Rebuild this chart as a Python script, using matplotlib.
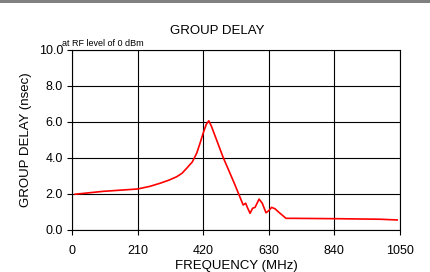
import matplotlib.pyplot as plt
from matplotlib.patches import Rectangle

plt.rcParams['font.family'] = ['Liberation Sans', 'DejaVu Sans']

# Frequency (MHz) and group delay (nsec)
freq = [10, 100, 210, 250, 282, 310, 335, 352, 367, 385, 399, 410, 420, 430, 438, 446,
        484, 520, 548, 556, 562, 570, 578, 586, 599, 609, 621, 630,
        639, 650, 660, 685, 708, 850, 986, 1041]
delay = [1.96, 2.12, 2.25, 2.4, 2.57, 2.74, 2.93, 3.12, 3.4, 3.75, 4.23, 4.8, 5.36, 5.85, 6.04, 5.75,
         4.0, 2.55, 1.36, 1.46, 1.2, 0.9, 1.18, 1.23, 1.69, 1.46, 0.93, 1.05,
         1.23, 1.15, 0.99, 0.62, 0.62, 0.6, 0.57, 0.53]

xticks = [0, 210, 420, 630, 840, 1050]
yticks = [0, 2, 4, 6, 8, 10]

fig = plt.figure(figsize=(4.3, 2.72), dpi=100)
fig.patch.set_facecolor('white')
ax = fig.add_axes([72/430, 1 - 229.5/272, 328/430, 180/272])

ax.plot(freq, delay, color='#ff0000', linewidth=1.2, zorder=3)

ax.set_xlim(0, 1050)
ax.set_ylim(0, 10)
ax.set_xticks(xticks)
ax.set_yticks(yticks)
ax.set_xticklabels([str(t) for t in xticks], fontsize=9)
ax.set_yticklabels(['%.1f' % t for t in yticks], fontsize=9)
ax.tick_params(direction='out', length=3.5, width=0.8, color='black', pad=3)
ax.tick_params(axis='x', pad=8)
ax.grid(True, color='black', linewidth=0.8)
ax.set_axisbelow(True)
for side in ['left', 'bottom', 'right', 'top']:
    ax.spines[side].set_linewidth(0.8)
    ax.spines[side].set_color('black')

ax.set_xlabel('FREQUENCY (MHz)', fontsize=9.5, labelpad=2)
ax.set_ylabel('GROUP DELAY (nsec)', fontsize=9.5, labelpad=5)

fig.text(217/430, 1 - 31/272, 'GROUP DELAY', fontsize=9.5, ha='center', va='center')
fig.text(62/430, 1 - 43/272, 'at RF level of 0 dBm', fontsize=6.5, ha='left', va='center')

# grey bar along the top edge
fig.patches.append(Rectangle((0, 1 - 2.5/272), 1, 2.5/272, transform=fig.transFigure,
                             facecolor='#808080', edgecolor='none'))

fig.savefig('out.png', dpi=100, facecolor=fig.get_facecolor())
